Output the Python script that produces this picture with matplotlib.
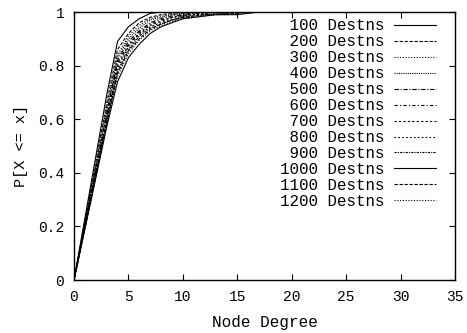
import matplotlib
matplotlib.use('Agg')
import matplotlib.pyplot as plt
import numpy as np

plt.rcParams['font.family'] = ['Liberation Mono', 'DejaVu Sans Mono']

degree = list(range(18))

labels = ['100 Destns', '200 Destns', '300 Destns', '400 Destns', '500 Destns', '600 Destns',
          '700 Destns', '800 Destns', '900 Destns', '1000 Destns', '1100 Destns', '1200 Destns']

cdf_100 = [0, .23, .46, .69, .89, .945, .975, .995, 1, 1, 1, 1, 1, 1, 1, 1, 1, 1]
cdf_200 = [0, .22, .44, .66, .86, .92, .96, .98, .99, .995, 1, 1, 1, 1, 1, 1, 1, 1]
cdf_300 = [0, .215, .43, .645, .84, .91, .95, .975, .985, .99, .995, 1, 1, 1, 1, 1, 1, 1]
cdf_400 = [0, .21, .42, .63, .83, .90, .94, .97, .98, .99, .995, .997, 1, 1, 1, 1, 1, 1]
cdf_500 = [0, .205, .41, .62, .82, .89, .93, .96, .975, .985, .99, .995, 1, 1, 1, 1, 1, 1]
cdf_600 = [0, .205, .41, .615, .81, .88, .925, .955, .97, .98, .99, .993, .995, 1, 1, 1, 1, 1]
cdf_700 = [0, .2, .40, .60, .80, .875, .92, .95, .965, .98, .985, .99, .995, 1, 1, 1, 1, 1]
cdf_800 = [0, .2, .40, .60, .79, .87, .915, .945, .96, .975, .985, .99, .99, .995, 1, 1, 1, 1]
cdf_900 = [0, .195, .39, .59, .78, .86, .91, .94, .955, .97, .98, .985, .99, .993, .995, 1, 1, 1]
cdf_1000 = [0, .19, .38, .57, .74, .83, .88, .92, .945, .96, .975, .98, .985, .99, .99, .99, .995, 1]
cdf_1100 = [0, .195, .39, .585, .77, .855, .90, .935, .955, .97, .98, .985, .99, .99, .995, .995, 1, 1]
cdf_1200 = [0, .19, .385, .58, .76, .845, .895, .93, .95, .965, .975, .98, .985, .99, .99, .995, 1, 1]

series = [cdf_100, cdf_200, cdf_300, cdf_400, cdf_500, cdf_600,
          cdf_700, cdf_800, cdf_900, cdf_1000, cdf_1100, cdf_1200]

# gnuplot-ish mono dash patterns
dashes = ['-', (0, (3, 1.5)), (0, (1, 1.5)), (0, (1, 1)), (0, (4, 1.5, 1, 1.5)),
          (0, (3, 2, 1, 2)), (0, (2, 2)), (0, (1.5, 2)), (0, (2, 1, 1, 1)),
          '-', (0, (3, 1.5)), (0, (1, 1.5))]

fig = plt.figure(figsize=(4.67, 3.33), dpi=100)
ax = fig.add_axes([74/467, 1 - 280/333, (455-74)/467, (280-12)/333])

for lab, vals, ds in zip(labels, series, dashes):
    ax.plot(degree, vals, color='black', linewidth=0.8, linestyle=ds,
            label=' ' * (11 - len(lab)) + lab)

ax.set_xlim(0, 35)
ax.set_ylim(0, 1)
ax.set_xticks(np.arange(0, 36, 5))
ax.set_yticks([0, 0.2, 0.4, 0.6, 0.8, 1])
ax.set_yticklabels(['0', '0.2', '0.4', '0.6', '0.8', '1'])
ax.tick_params(direction='in', top=True, right=True, length=4, width=0.8, labelsize=10.5, pad=7)
for s in ax.spines.values():
    s.set_linewidth(1.0)

ax.set_xlabel('Node Degree', fontsize=11.5, labelpad=8)
ax.set_ylabel('P[X <= x]', fontsize=11, labelpad=7)

ax.legend(loc='upper right', frameon=False, markerfirst=False, fontsize=11.3,
          handlelength=2.7, labelspacing=0.06, handletextpad=0.6,
          borderaxespad=0.0, borderpad=0.0, bbox_to_anchor=(0.95, 0.976))

plt.savefig('out.png', dpi=100)
